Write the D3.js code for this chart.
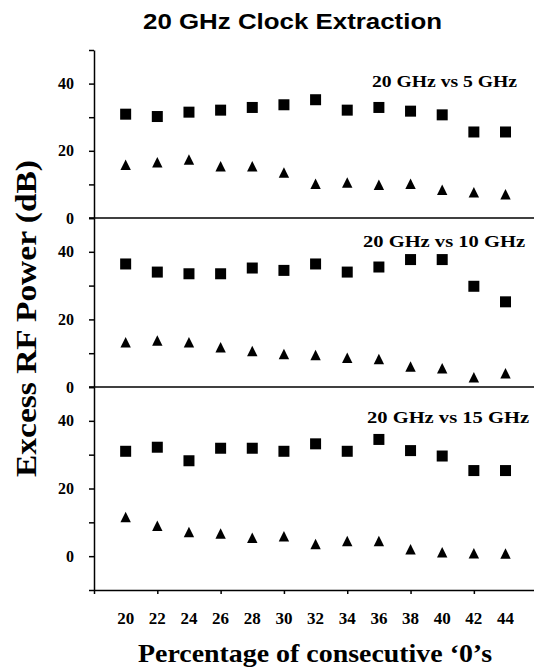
<!DOCTYPE html>
<html>
<head>
<meta charset="utf-8">
<script src="https://cdn.jsdelivr.net/npm/d3@7"></script>
<style>
  body { margin: 0; background: #fff; }
  .serif { font-family: "Liberation Serif", "Times New Roman", serif; font-weight: bold; }
  .tick text { font-family: "Liberation Serif", "Times New Roman", serif; font-weight: bold; font-size: 16px; fill: #000; }
</style>
</head>
<body>
<div id="chart"></div>
<script>
// data
var pctZeros = [20, 22, 24, 26, 28, 30, 32, 34, 36, 38, 40, 42, 44];

var sq5  = [30.9, 30.2, 31.5, 32.1, 32.9, 33.7, 35.2, 32.1, 32.9, 31.8, 30.7, 25.6, 25.6];
var tri5 = [15.8, 16.5, 17.3, 15.3, 15.3, 13.5, 10.1, 10.5, 9.8, 10.1, 8.3, 7.6, 7.0];

var sq10  = [36.4, 34.0, 33.5, 33.5, 35.2, 34.5, 36.4, 34.0, 35.5, 37.7, 37.7, 29.8, 25.2];
var tri10 = [13.2, 13.7, 13.2, 11.7, 10.6, 9.7, 9.4, 8.6, 8.2, 6.0, 5.5, 2.8, 4.0];

var sq15  = [31.0, 32.2, 28.2, 31.9, 31.9, 31.0, 33.2, 31.0, 34.5, 31.2, 29.6, 25.3, 25.3];
var tri15 = [11.5, 8.9, 7.1, 6.6, 5.4, 5.8, 3.5, 4.4, 4.4, 2.0, 1.1, 0.8, 0.7];

var panelLabels = ["20 GHz vs 5 GHz", "20 GHz vs 10 GHz", "20 GHz vs 15 GHz"];
var yTickLabels = [0, 20, 40];
var xTickMarks = [18, 22, 26, 30, 34, 38, 42];

var svgWidth = 534;
var svgHeight = 669;

var svg = d3.select("#chart")
  .append("svg")
  .attr("width", svgWidth)
  .attr("height", svgHeight);

var xScale = d3.scaleLinear()
  .domain([18, 45.8])
  .range([94, 534]);

// layout of the three stacked panels
var panels = [
  { label: panelLabels[0], sq: sq5,  tri: tri5,  domain: [0, 50],   range: [218, 50],  labelAt: 39,   labelRight: 517, labelWidth: 145 },
  { label: panelLabels[1], sq: sq10, tri: tri10, domain: [0, 50],   range: [387, 218], labelAt: 41.5, labelRight: 525, labelWidth: 162 },
  { label: panelLabels[2], sq: sq15, tri: tri15, domain: [-10, 50], range: [590, 387], labelAt: 39.5, labelRight: 529, labelWidth: 162 }
];

var triangle = "M0,-5.5L5.2,5L-5.2,5Z";

panels.forEach(function(p, i) {
  var yScale = d3.scaleLinear().domain(p.domain).range(p.range);

  var leftAxis = d3.axisLeft(yScale)
    .tickValues(d3.range(p.domain[0], 51, 10))
    .tickSize(5)
    .tickSizeOuter(0)
    .tickPadding(15)
    .tickFormat(function(d) { return yTickLabels.indexOf(d) >= 0 ? d : ""; });

  var g = svg.append("g")
    .attr("transform", "translate(94,0)")
    .call(leftAxis);
  g.selectAll("path, line").attr("stroke", "#000").attr("stroke-width", 1.5);

  // zero line that splits the panels
  if (i < 2) {
    svg.append("line")
      .attr("x1", 89).attr("x2", svgWidth)
      .attr("y1", yScale(0)).attr("y2", yScale(0))
      .attr("stroke", "#000")
      .attr("stroke-width", 1.5);
  }

  svg.append("g").selectAll("rect")
    .data(p.sq)
    .enter()
    .append("rect")
    .attr("x", (d, j) => xScale(pctZeros[j]) - 5.5)
    .attr("y", d => yScale(d) - 5.5)
    .attr("width", 11)
    .attr("height", 11)
    .attr("fill", "#000");

  svg.append("g").selectAll("path")
    .data(p.tri)
    .enter()
    .append("path")
    .attr("d", triangle)
    .attr("transform", (d, j) => `translate(${xScale(pctZeros[j])}, ${yScale(d)})`)
    .attr("fill", "#000");

  svg.append("text")
    .attr("class", "serif")
    .attr("x", p.labelRight - p.labelWidth)
    .attr("y", yScale(p.labelAt))
    .attr("font-size", "16px")
    .attr("textLength", p.labelWidth)
    .attr("lengthAdjust", "spacingAndGlyphs")
    .text(p.label);
});

// bottom axis
var bottomAxis = d3.axisBottom(xScale)
  .tickValues(xTickMarks)
  .tickSize(4)
  .tickSizeOuter(0)
  .tickFormat("");

var xg = svg.append("g")
  .attr("transform", "translate(0,590)")
  .call(bottomAxis);
xg.selectAll("path, line").attr("stroke", "#000").attr("stroke-width", 1.5);

svg.append("g").selectAll("text")
  .data(pctZeros)
  .enter()
  .append("text")
  .attr("class", "serif")
  .attr("x", d => xScale(d))
  .attr("y", 624)
  .attr("text-anchor", "middle")
  .attr("font-size", "17px")
  .text(d => d);

// titles
svg.append("text")
  .attr("x", 143)
  .attr("y", 29)
  .attr("font-family", "'Liberation Sans', Arial, sans-serif")
  .attr("font-weight", "bold")
  .attr("font-size", "22px")
  .attr("textLength", 299)
  .attr("lengthAdjust", "spacingAndGlyphs")
  .text("20 GHz Clock Extraction");

svg.append("text")
  .attr("class", "serif")
  .attr("x", 138)
  .attr("y", 662)
  .attr("font-size", "26px")
  .attr("textLength", 354)
  .attr("lengthAdjust", "spacingAndGlyphs")
  .text("Percentage of consecutive \u20180\u2019s");

svg.append("text")
  .attr("class", "serif")
  .attr("transform", "translate(36,477) rotate(-90)")
  .attr("font-size", "30px")
  .attr("textLength", 317)
  .attr("lengthAdjust", "spacingAndGlyphs")
  .text("Excess RF Power (dB)");
</script>
</body>
</html>
